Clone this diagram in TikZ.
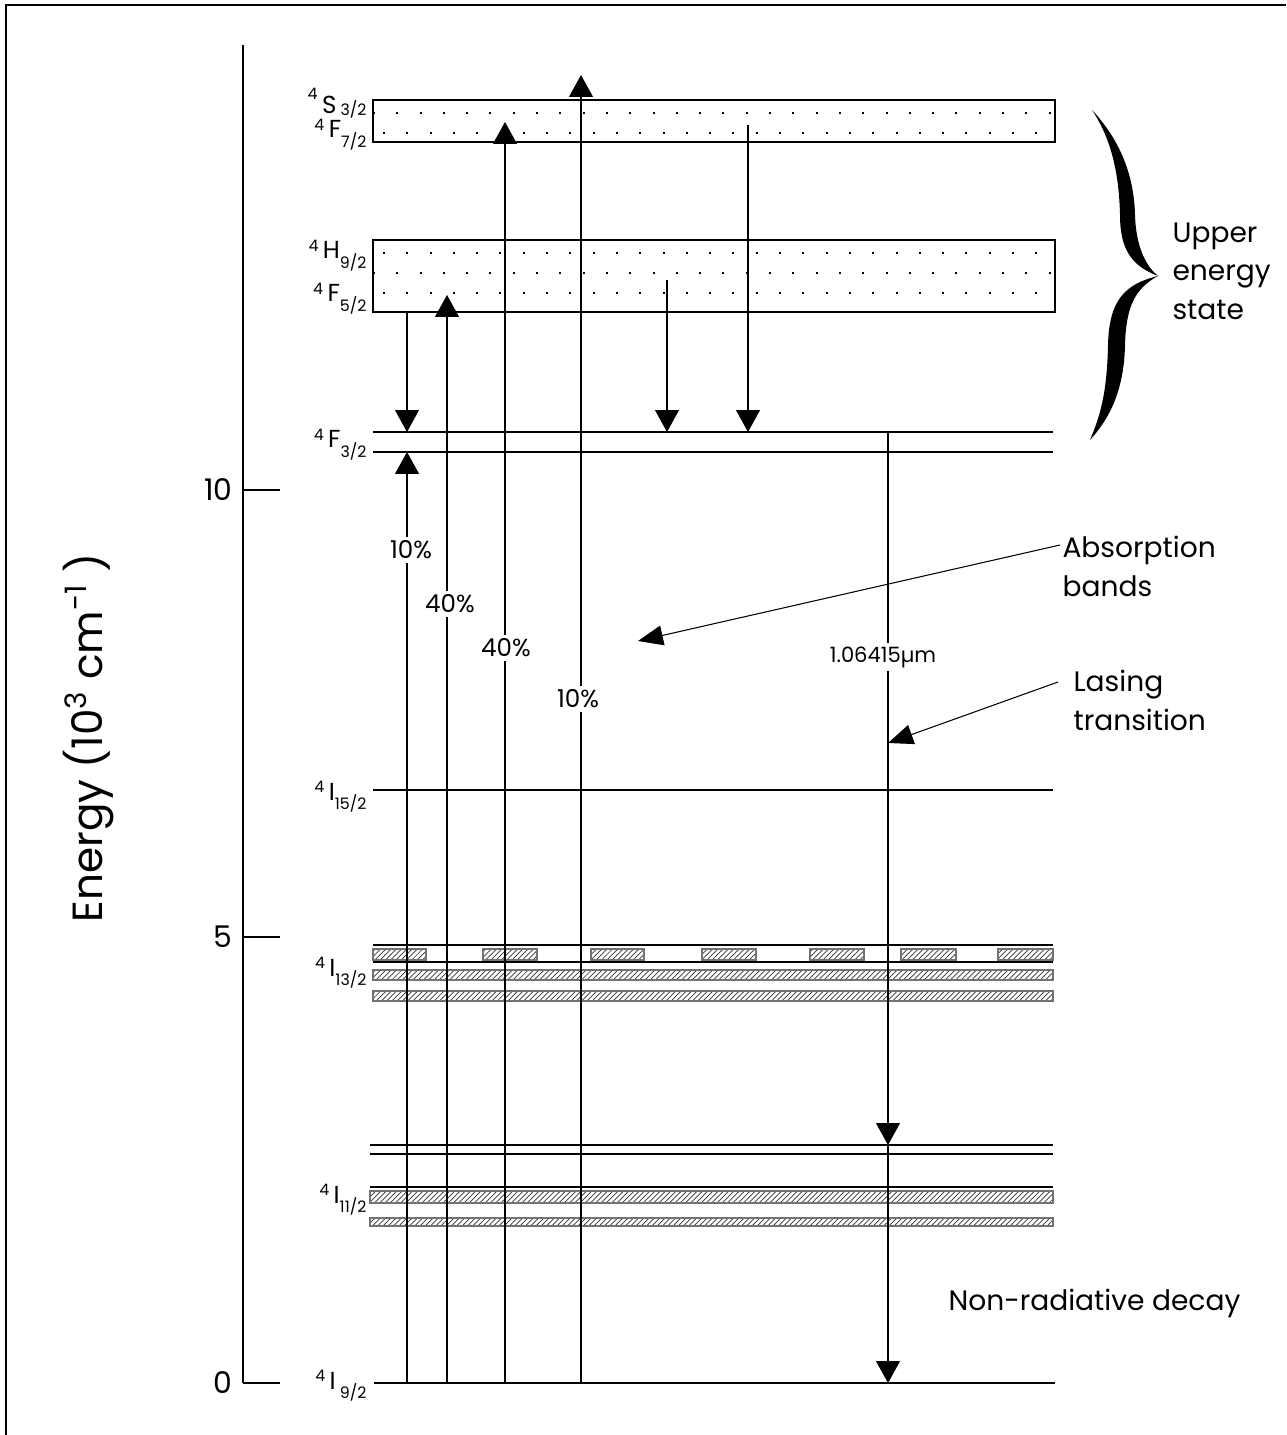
\documentclass[tikz,border=0pt]{standalone}
\usepackage{fontspec}
\setmainfont{Poppins}
\usetikzlibrary{arrows.meta,patterns,positioning}

\newcommand{\lvl}[4][-5.5pt]{\raisebox{4.5pt}{\fontsize{9}{9}\selectfont #2}\hspace{2.5pt}#3\raisebox{#1}{\fontsize{9}{9}\selectfont #4}}

\tikzset{
  band/.style={draw=black!55, line width=0.8pt, pattern=north east lines, pattern color=black!80},
  dotrow/.style={dash pattern=on 0.04cm off 0.426cm, line width=0.9pt},
  pump/.style={-{Triangle[width=0.48cm,length=0.44cm]}},
  pointer/.style={-{Triangle[width=0.4cm,length=0.5cm]}},
  pct/.style={fill=white, inner sep=2pt, font=\fontsize{14}{16}\selectfont},
  lbl/.style={anchor=base east, inner sep=0pt, font=\fontsize{14}{16}\selectfont},
  note/.style={align=left, anchor=north west, inner sep=0pt, font=\fontsize{16}{22}\selectfont}
}

\begin{document}
\begin{tikzpicture}[x=0.02cm, y=-0.02cm, line width=0.6pt]
    \useasboundingbox (0,0) rectangle (1286,1435);

    % frame
    \draw[line width=1.1pt] (6,1435) -- (6,5) -- (1286,5);

    % energy axis
    \coordinate (axtop) at (243,45);
    \coordinate (axbot) at (243,1383);
    \draw (axtop) -- (axbot);
    \foreach \v/\y in {10/490, 5/937, 0/1383} {
        \draw (243,\y) -- (280,\y);
        \node[anchor=east, inner sep=0pt, font=\fontsize{17}{17}\selectfont] at (233,\y) {\v};
    }
    \node[rotate=90, font=\fontsize{24}{28}\selectfont] (elabel) at (88,738)
        {Energy (10\textsuperscript{3} cm\textsuperscript{-1} )};

    % upper bands
    \draw (373,100) rectangle (1055,142);
    \draw[dotrow] (373,113) -- (1055,113);
    \draw[dotrow] (383,133) -- (1055,133);
    \draw (373,240) rectangle (1055,312);
    \draw[dotrow] (383,253) -- (1055,253);
    \draw[dotrow] (373,273) -- (1055,273);
    \draw[dotrow] (383,293) -- (1055,293);

    % 4F3/2
    \draw (373,432) -- (1053,432);
    \draw (373,452) -- (1053,452);

    % 4I15/2
    \draw (373,790) -- (1053,790);

    % 4I13/2
    \draw (373,945) -- (1053,945);
    \foreach \a/\b in {373/426, 483/537, 591/644, 702/756, 810/864, 901/956, 998/1053}
        \draw[band] (\a,949) rectangle (\b,960);
    \draw (373,962) -- (1053,962);
    \draw[band] (373,970) rectangle (1053,980);
    \draw[band] (373,991) rectangle (1053,1001);

    % 4I11/2
    \draw (370,1145) -- (1053,1145);
    \draw (370,1154) -- (1053,1154);
    \draw (370,1187) -- (1053,1187);
    \draw[band] (370,1191) rectangle (1053,1203);
    \draw[band] (370,1218) rectangle (1053,1226);

    % 4I9/2
    \draw (374,1383) -- (1055,1383);

    % level names
    \node[lbl] (s32) at (367,114) {\raisebox{8pt}{\fontsize{9}{9}\selectfont 4}\hspace{2.5pt}S\,\raisebox{-1pt}{\fontsize{9}{9}\selectfont 3/2}};
    \node[lbl] (f72) at (367,138) {\lvl{4}{F}{7/2}};
    \node[lbl] (h92) at (367,259) {\lvl{4}{H}{9/2}};
    \node[lbl] (f52) at (367,302) {\lvl{4}{F}{5/2}};
    \node[lbl] (f32) at (367,448) {\lvl{4}{F}{3/2}};
    \node[lbl] (i152) at (367,800) {\lvl{4}{I}{15/2}};
    \node[lbl] (i132) at (367,976) {\lvl{4}{I}{13/2}};
    \node[lbl] (i112) at (367,1203) {\lvl{4}{I}{11/2}};
    \node[lbl] (i92) at (367,1389) {\lvl{4}{I\,}{9/2}};

    % pump transitions
    \coordinate (g1) at (407,1383);  \coordinate (u1) at (407,452);
    \coordinate (g2) at (447,1383);  \coordinate (u2) at (447,295);
    \coordinate (g3) at (505,1383);  \coordinate (u3) at (505,122);
    \coordinate (g4) at (581,1383);  \coordinate (u4) at (581,75);
    \draw[pump] (g1) -- (u1);
    \draw[pump] (g2) -- (u2);
    \draw[pump] (g3) -- (u3);
    \draw[pump] (g4) -- (u4);
    \node[pct] (p1) at (411,550) {10\%};
    \node[pct] (p2) at (450,604) {40\%};
    \node[pct] (p3) at (506,648) {40\%};
    \node[pct] (p4) at (578,699) {10\%};

    % decay into 4F3/2
    \coordinate (d1) at (407,312);  \coordinate (e1) at (407,432);
    \coordinate (d2) at (667,280);  \coordinate (e2) at (667,432);
    \coordinate (d3) at (748,125);  \coordinate (e3) at (748,432);
    \draw[pump] (d1) -- (e1);
    \draw[pump] (d2) -- (e2);
    \draw[pump] (d3) -- (e3);

    % lasing transition
    \coordinate (l0) at (888,432);
    \coordinate (l1) at (888,1145);
    \coordinate (l2) at (888,1383);
    \draw[pump] (l0) -- (l1);
    \draw[pump] (l1) -- (l2);
    \node[pct, font=\fontsize{12}{14}\selectfont] (wave) at (883,657) {1.06415µm};

    % brace
    \fill (1092,110) .. controls (1120,140) and (1134,175) .. (1135,215)
        .. controls (1136,250) and (1148,268) .. (1158,276)
        .. controls (1136,288) and (1126,305) .. (1125,345)
        .. controls (1124,390) and (1110,418) .. (1090,440)
        .. controls (1102,412) and (1107,388) .. (1108,345)
        .. controls (1109,300) and (1125,284) .. (1158,276)
        .. controls (1132,266) and (1120,250) .. (1120,215)
        .. controls (1119,175) and (1112,140) .. (1092,110) -- cycle;

    % notes
    \node[note] (upper) at (1172,222) {Upper\\energy\\state};
    \node[note] (absorb) at (1062,536) {Absorption\\bands};
    \node[note] (lasing) at (1073,670) {Lasing\\transition};
    \node[anchor=base west, inner sep=0pt, font=\fontsize{16}{20}\selectfont] (nonrad) at (948,1310) {Non-radiative decay};

    \coordinate (a0) at (1060,545);  \coordinate (a1) at (638,641);
    \coordinate (b0) at (1058,682);  \coordinate (b1) at (888,743);
    \draw[pointer] (a0) -- (a1);
    \draw[pointer] (b0) -- (b1);
\end{tikzpicture}
\end{document}
